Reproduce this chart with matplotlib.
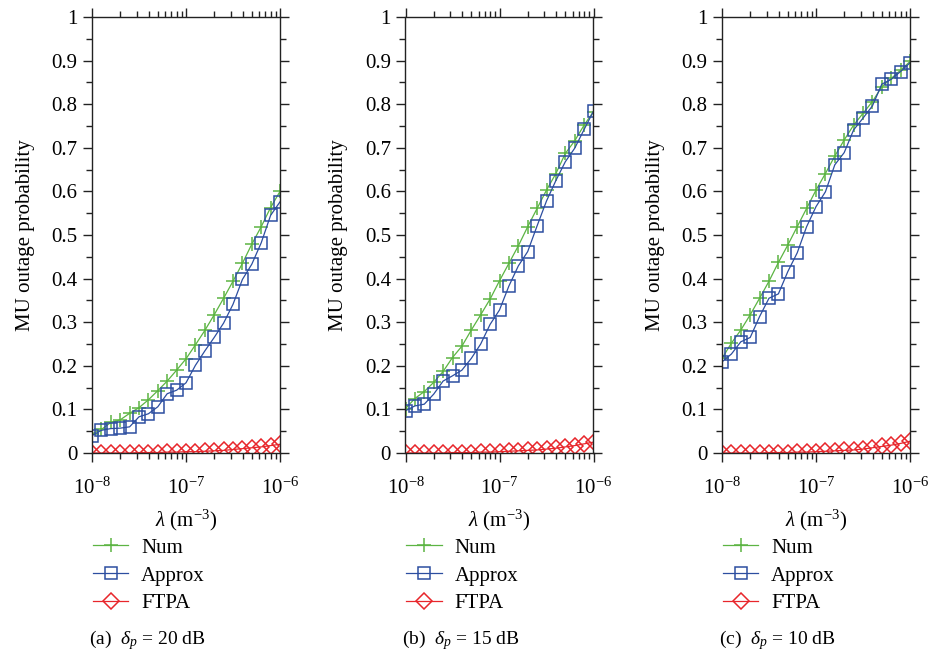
import numpy as np
import matplotlib
matplotlib.use("Agg")
import matplotlib.pyplot as plt
from matplotlib.ticker import FixedLocator, FixedFormatter, LogLocator, NullFormatter

plt.rcParams['font.family'] = ['Liberation Serif', 'DejaVu Serif']
plt.rcParams['mathtext.fontset'] = 'custom'
plt.rcParams['mathtext.rm'] = 'Liberation Serif'
plt.rcParams['mathtext.it'] = 'Liberation Serif:italic'
plt.rcParams['mathtext.bf'] = 'Liberation Serif:bold'

# x values: lambda (m^-3), 21 log-spaced points from 1e-8 to 1e-6
lam = np.logspace(-8, -6, 21)

num_a = [0.044, 0.054, 0.070, 0.076, 0.091, 0.104, 0.122, 0.143, 0.165, 0.190, 0.216,
         0.248, 0.281, 0.317, 0.355, 0.394, 0.435, 0.479, 0.519, 0.563, 0.600]
approx_a = [0.040, 0.052, 0.056, 0.057, 0.060, 0.083, 0.090, 0.106, 0.136, 0.144, 0.161,
            0.201, 0.234, 0.265, 0.298, 0.341, 0.398, 0.433, 0.482, 0.545, 0.576]
ftpa_a = [0.0, 0.0, 0.0, 0.0, 0.0, 0.001, 0.001, 0.001, 0.002, 0.002, 0.003,
          0.003, 0.004, 0.005, 0.006, 0.008, 0.010, 0.012, 0.014, 0.017, 0.020]

num_b = [0.102, 0.125, 0.141, 0.162, 0.187, 0.219, 0.245, 0.282, 0.317, 0.353, 0.395,
         0.435, 0.475, 0.519, 0.561, 0.603, 0.641, 0.687, 0.716, 0.752, 0.783]
approx_b = [0.097, 0.108, 0.112, 0.135, 0.165, 0.177, 0.190, 0.217, 0.250, 0.295, 0.328,
            0.383, 0.429, 0.462, 0.521, 0.578, 0.625, 0.668, 0.699, 0.742, 0.784]
ftpa_b = [0.0, 0.0, 0.0, 0.0, 0.0, 0.001, 0.001, 0.001, 0.002, 0.002, 0.003,
          0.004, 0.005, 0.006, 0.007, 0.009, 0.011, 0.014, 0.017, 0.021, 0.025]

num_c = [0.217, 0.252, 0.282, 0.317, 0.355, 0.394, 0.437, 0.477, 0.519, 0.561, 0.603,
         0.641, 0.681, 0.718, 0.752, 0.779, 0.806, 0.840, 0.859, 0.878, 0.898]
approx_c = [0.209, 0.227, 0.255, 0.265, 0.313, 0.355, 0.365, 0.416, 0.459, 0.519, 0.565,
            0.599, 0.661, 0.689, 0.741, 0.768, 0.796, 0.846, 0.857, 0.875, 0.895]
ftpa_c = [0.0, 0.0, 0.0, 0.0, 0.0, 0.001, 0.001, 0.001, 0.002, 0.002, 0.003,
          0.004, 0.005, 0.006, 0.007, 0.009, 0.012, 0.015, 0.018, 0.022, 0.027]

panels = [
    (num_a, approx_a, ftpa_a, r"(a)  $\delta_p$ = 20 dB"),
    (num_b, approx_b, ftpa_b, r"(b)  $\delta_p$ = 15 dB"),
    (num_c, approx_c, ftpa_c, r"(c)  $\delta_p$ = 10 dB"),
]
series_names = ["Num", "Approx", "FTPA"]
yticks = [0, 0.1, 0.2, 0.3, 0.4, 0.5, 0.6, 0.7, 0.8, 0.9, 1.0]
ytick_labels = ["0", "0.1", "0.2", "0.3", "0.4", "0.5", "0.6", "0.7", "0.8", "0.9", "1"]

green = "#5cb443"
blue = "#2c4ea0"
red = "#e8262b"

W, H = 929, 658
fig = plt.figure(figsize=(W / 100, H / 100), dpi=100)

lefts = [92, 405.5, 722]
axw, top, bottom = 188, 17, 453
for (num, approx, ftpa, cap), lx in zip(panels, lefts):
    ax = fig.add_axes([lx / W, 1 - bottom / H, axw / W, (bottom - top) / H])
    ax.plot(lam, num, color=green, lw=0.9, marker='+', ms=9.5, mew=1.1, label=series_names[0])
    ax.plot(lam, approx, color=blue, lw=0.9, marker='s', ms=9, mew=1.1, mfc='none', label=series_names[1])
    ax.plot(lam, ftpa, color=red, lw=0.9, marker='D', ms=8, mew=1.1, mfc='none', label=series_names[2])
    ax.set_xscale('log')
    ax.set_xlim(1e-8, 1e-6)
    ax.set_ylim(0, 1)
    ax.yaxis.set_major_locator(FixedLocator(yticks))
    ax.yaxis.set_major_formatter(FixedFormatter(ytick_labels))
    ax.yaxis.set_minor_locator(FixedLocator(np.arange(0.05, 1.0, 0.1)))
    ax.xaxis.set_major_locator(FixedLocator([1e-8, 1e-7, 1e-6]))
    ax.xaxis.set_major_formatter(FixedFormatter([r"$10^{-8}$", r"$10^{-7}$", r"$10^{-6}$"]))
    ax.xaxis.set_minor_locator(LogLocator(base=10, subs=np.arange(2, 10), numticks=20))
    ax.xaxis.set_minor_formatter(NullFormatter())
    ax.tick_params(which='both', direction='out', top=True, right=True, labelsize=15,
                   color='#222222', width=1.0)
    ax.tick_params(which='major', length=6.5)
    ax.tick_params(which='minor', length=4)
    ax.tick_params(axis='x', pad=11)
    ax.tick_params(axis='y', pad=4)
    for s in ax.spines.values():
        s.set_color('#222222')
        s.set_linewidth(1.0)
    ax.set_ylabel("MU outage probability", fontsize=15, labelpad=12)
    ax.set_xlabel(r"$\lambda$ (m$^{-3}$)", fontsize=15, labelpad=7)
    ax.legend(loc='upper left', bbox_to_anchor=((lx + 1) / W, 1 - 538 / H),
              bbox_transform=fig.transFigure, frameon=False, fontsize=15,
              borderpad=0, borderaxespad=0, labelspacing=0.40, handlelength=1.7,
              handletextpad=0.6)
    fig.text((lx - 3) / W, 1 - 640 / H, cap, fontsize=14, va='center', ha='left')

fig.savefig("out.png", dpi=100)
